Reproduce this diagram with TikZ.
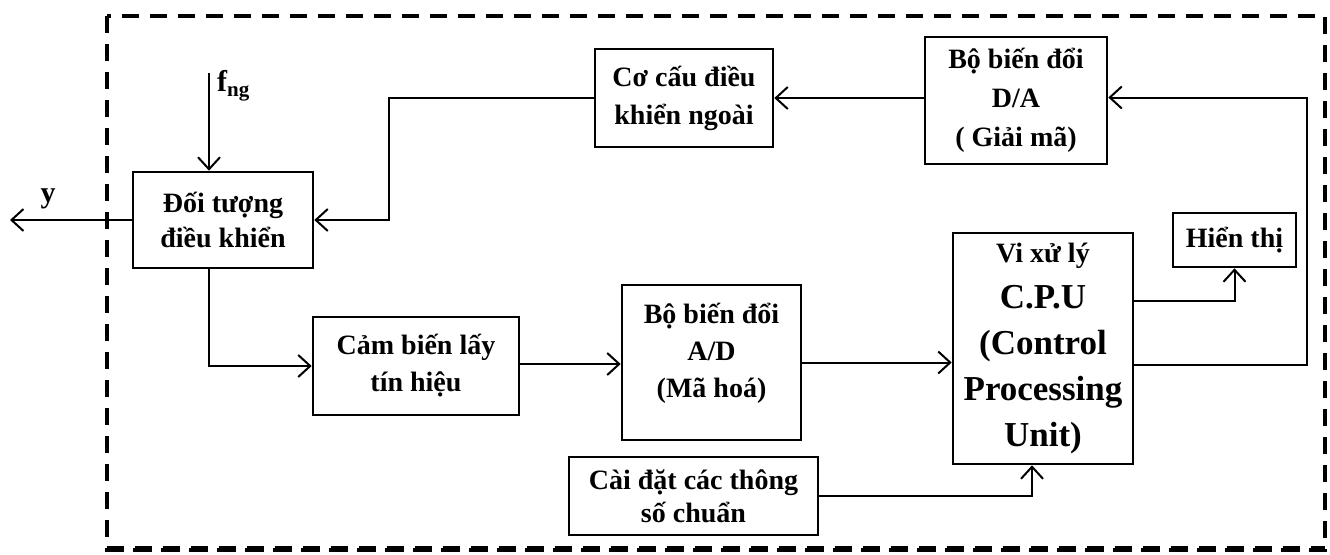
\documentclass[tikz,border=0pt]{standalone}
\usepackage{fontspec}
\setmainfont{Liberation Serif}
\usetikzlibrary{arrows.meta}
\begin{document}
\begin{tikzpicture}[x=1pt,y=-1pt,
  box/.style={draw, line width=2.6pt, inner sep=0pt, align=center,
    font=\bfseries\fontsize{28}{36}\selectfont},
  arr/.style={draw, line width=2pt, -{Straight Barb[length=12pt,width=22pt]}},
  frame/.style={draw, line width=4.5pt, dash pattern=on 17pt off 11pt},
  lbl/.style={font=\bfseries\fontsize{30}{30}\selectfont, inner sep=0pt}]
\useasboundingbox (0,0) rectangle (1330,554);
\draw[frame] (107,16) rectangle (1325,550);
\draw[frame, line width=6pt] (107,549) -- (1325,549);

\node[box, minimum width=180pt, minimum height=96pt, font=\bfseries\fontsize{28}{35}\selectfont] (obj) at (223,220) {Đối tượng\\điều khiển};
\node[box, minimum width=178pt, minimum height=98pt, font=\bfseries\fontsize{28}{38}\selectfont] (act) at (684,98) {Cơ cấu điều\\khiển ngoài};
\node[box, minimum width=182pt, minimum height=127pt, font=\bfseries\fontsize{28}{39}\selectfont] (da) at (1016,100.5) {Bộ biến đổi\\D/A\\( Giải mã)};
\node[box, minimum width=123pt, minimum height=54pt] (disp) at (1234.5,240) {Hiển thị};
\node[box, minimum width=180pt, minimum height=231pt, font=\bfseries\fontsize{35}{46}\selectfont] (cpu) at (1043,348.5)
  {{\fontsize{28}{28}\selectfont Vi xử lý}\\C.P.U\\(Control\\Processing\\Unit)};
\node[box, minimum width=206pt, minimum height=98pt, font=\bfseries\fontsize{28}{37}\selectfont] (sens) at (416,366) {Cảm biến lấy\\tín hiệu};
\node[box, minimum width=179pt, minimum height=155pt, font=\bfseries\fontsize{28}{37}\selectfont] (ad) at (711.5,362.5) {Bộ biến đổi\\A/D\\(Mã hoá)\\[-13pt]\mbox{}};
\node[box, minimum width=249pt, minimum height=78pt, font=\bfseries\fontsize{28}{33}\selectfont] (set) at (693.5,496) {Cài đặt các thông\\số chuẩn};

\coordinate (fin) at (209,73);
\coordinate (yout) at (10,220);
\coordinate (k1) at (389,0);
\coordinate (k2) at (1307,0);

\node[lbl, anchor=west] (fl) at (217,86) {f\raisebox{-0.4ex}{\fontsize{21}{21}\selectfont ng}};
\node[lbl] (yl) at (48,199) {y};

\draw[arr] (fin) -- (fin |- obj.north);
\draw[arr] (obj.west) -- (yout);
\draw[arr] (act.west) -- (act.west -| k1) |- (obj.east);
\draw[arr] (da.west |- act.west) -- (act.east);
\draw[arr] ([yshift=-16pt]cpu.east) -| ([yshift=3pt]k2 |- da.east) -- ([yshift=3pt]da.east);
\draw[arr] ([yshift=48pt]cpu.east) -| (disp.south);
\draw[arr] (fin |- obj.south) |- (sens.west);
\draw[arr] ([yshift=2pt]sens.east) -- ([yshift=2pt]sens.east -| ad.west);
\draw[arr] (ad.east) -- (ad.east -| cpu.west);
\draw[arr] (set.east) -| ([xshift=-11pt]cpu.south);
\end{tikzpicture}
\end{document}
